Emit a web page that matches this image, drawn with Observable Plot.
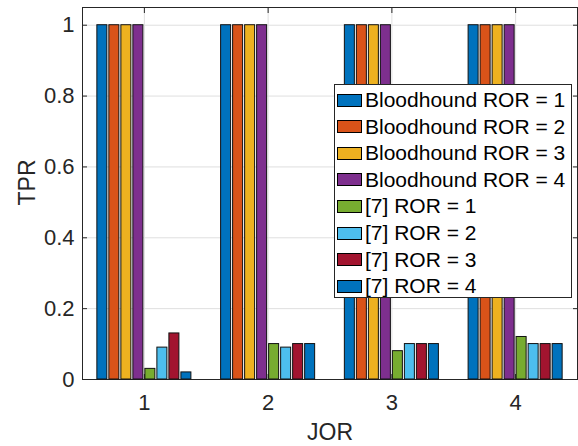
<!DOCTYPE html>
<html>
<head>
<meta charset="utf-8">
<script src="https://cdn.jsdelivr.net/npm/d3@7"></script>
<script src="https://cdn.jsdelivr.net/npm/@observablehq/plot@0.6"></script>
<style>
  html, body { margin: 0; padding: 0; background: #fff; }
  #wrap { position: relative; width: 578px; height: 446px; font-family: "Liberation Sans", Arial, sans-serif; }
  #wrap > svg { position: absolute; left: 0; top: 0; }
  #legend { position: absolute; left: 334px; top: 84px; width: 236px; height: 212px; background: #fff; border: 1px solid #262626; box-sizing: content-box; }
  .row { position: absolute; left: 2px; height: 14px; display: flex; align-items: center; white-space: nowrap; }
  .sw { width: 25px; height: 13px; border: 1px solid #000; box-sizing: border-box; margin-right: 3px; flex: none; }
  .lab { font-size: 21px; color: #000; line-height: 14px; }
</style>
</head>
<body>
<div id="wrap"></div>
<script>
// ---- data ----
const jor = [1, 2, 3, 4];
const seriesNames = [
  "Bloodhound ROR = 1", "Bloodhound ROR = 2", "Bloodhound ROR = 3", "Bloodhound ROR = 4",
  "[7] ROR = 1", "[7] ROR = 2", "[7] ROR = 3", "[7] ROR = 4"
];
const bloodhoundRor1 = [1, 1, 1, 1];
const bloodhoundRor2 = [1, 1, 1, 1];
const bloodhoundRor3 = [1, 1, 1, 1];
const bloodhoundRor4 = [1, 1, 1, 1];
const ref7Ror1 = [0.03, 0.10, 0.08, 0.12];
const ref7Ror2 = [0.09, 0.09, 0.10, 0.10];
const ref7Ror3 = [0.13, 0.10, 0.10, 0.10];
const ref7Ror4 = [0.02, 0.10, 0.10, 0.10];
const seriesColors = ["#0072BD", "#D95319", "#EDB120", "#7E2F8E", "#77AC30", "#4DBEEE", "#A2142F", "#0072BD"];
const yTicks = [0, 0.2, 0.4, 0.6, 0.8, 1];
const xLabel = "JOR";
const yLabel = "TPR";

const allSeries = [bloodhoundRor1, bloodhoundRor2, bloodhoundRor3, bloodhoundRor4, ref7Ror1, ref7Ror2, ref7Ror3, ref7Ror4];
const table = [];
allSeries.forEach((vals, i) => vals.forEach((v, j) => table.push({jor: jor[j], series: seriesNames[i], tpr: v})));

const W = 578, H = 446;
const M = {marginLeft: 82, marginRight: 1, marginTop: 7, marginBottom: 67};
const ink = "#262626";
const FS = 22, LFS = 23;

// ---- back layer: grid, axes, frame ----
const back = Plot.plot({
  width: W, height: H, ...M,
  x: {domain: [0.5, 4.5], axis: null},
  y: {domain: [0, 1.05], axis: null},
  style: {fontFamily: "'Liberation Sans', Arial, sans-serif", color: ink, background: "#fff", overflow: "visible"},
  marks: [
    Plot.gridX(jor, {stroke: "#dfdfdf", strokeOpacity: 1}),
    Plot.gridY(yTicks, {stroke: "#dfdfdf", strokeOpacity: 1}),
    Plot.frame({stroke: ink, strokeWidth: 1}),
    Plot.axisX(jor, {anchor: "bottom", tickSize: -5, tickFormat: () => "", label: null, stroke: ink}),
    Plot.axisX(jor, {anchor: "top", tickSize: -5, tickFormat: () => "", label: null, stroke: ink}),
    Plot.axisY(yTicks, {anchor: "left", tickSize: -5, tickFormat: () => "", label: null, stroke: ink}),
    Plot.axisY(yTicks, {anchor: "right", tickSize: -5, tickFormat: () => "", label: null, stroke: ink}),
    Plot.text(jor, {x: d => d, frameAnchor: "bottom", dy: 23, text: d => String(d), fontSize: FS, fill: ink, lineAnchor: "middle"}),
    Plot.text(yTicks, {y: d => d, frameAnchor: "left", dx: -8, text: d => String(d), fontSize: FS, fill: ink, textAnchor: "end", lineAnchor: "middle"}),
    Plot.text([xLabel], {frameAnchor: "bottom", dy: 53, fontSize: LFS, fill: ink, lineAnchor: "middle"}),
    Plot.text([yLabel], {frameAnchor: "left", dx: -55, dy: 12, rotate: -90, fontSize: LFS, fill: ink, lineAnchor: "middle"})
  ]
});

// ---- front layer: bars ----
const front = Plot.plot({
  width: W, height: H, ...M,
  fx: {domain: jor, paddingInner: 0.224, paddingOuter: 0.112, round: false, axis: null, label: null},
  x: {domain: seriesNames, paddingInner: 0.167, paddingOuter: 0.083, round: false, axis: null},
  y: {domain: [0, 1.05], axis: null},
  color: {domain: seriesNames, range: seriesColors},
  style: {background: "transparent"},
  marks: [
    Plot.barY(table, {fx: "jor", x: "series", y: "tpr", fill: "series", stroke: "#111", strokeWidth: 1})
  ]
});

const wrap = document.getElementById("wrap");
wrap.appendChild(back);
wrap.appendChild(front);

// ---- legend ----
const legend = document.createElement("div");
legend.id = "legend";
seriesNames.forEach((name, i) => {
  const row = document.createElement("div");
  row.className = "row";
  row.style.top = (8 + i * 26.6) + "px";
  const sw = document.createElement("div");
  sw.className = "sw";
  sw.style.background = seriesColors[i];
  const lab = document.createElement("span");
  lab.className = "lab";
  lab.textContent = name;
  row.appendChild(sw);
  row.appendChild(lab);
  legend.appendChild(row);
});
wrap.appendChild(legend);
</script>
</body>
</html>
